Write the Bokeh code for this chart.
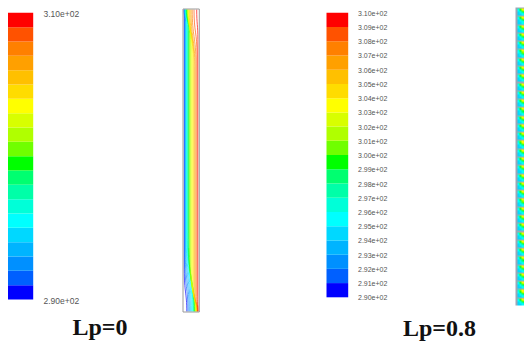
import numpy as np
from bokeh.plotting import figure
from bokeh.models import Range1d, LinearColorMapper, ColumnDataSource
from bokeh.transform import linear_cmap
from bokeh.core.properties import value
from bokeh.embed import file_html
from bokeh.resources import INLINE

# ---------------- data ----------------
# colour-bar levels (K) and their labels
levels = [290, 291, 292, 293, 294, 295, 296, 297, 298, 299, 300,
          301, 302, 303, 304, 305, 306, 307, 308, 309, 310]
level_labels = ["2.90e+02", "2.91e+02", "2.92e+02", "2.93e+02", "2.94e+02",
                "2.95e+02", "2.96e+02", "2.97e+02", "2.98e+02", "2.99e+02",
                "3.00e+02", "3.01e+02", "3.02e+02", "3.03e+02", "3.04e+02",
                "3.05e+02", "3.06e+02", "3.07e+02", "3.08e+02", "3.09e+02",
                "3.10e+02"]
left_label_levels = [290, 310]
left_labels = ["2.90e+02", "3.10e+02"]
# band colours, lowest (blue) to highest (red)
palette = ["#0000FF", "#0060FF", "#0090FF", "#00B4FF", "#00D8FF",
           "#00FFFF", "#00FFD8", "#00FFA8", "#00FF70", "#00FF00",
           "#70FF00", "#B0FF00", "#D8FF00", "#FFFF00", "#FFDC00",
           "#FFC000", "#FFA000", "#FF8000", "#FF5200", "#FF0000"]

# isotherms in the Lp=0 cavity (fractions of cavity width / height)
iso_T = [290.5, 291.5, 292.5, 293.5, 294.5, 295.5, 296.5, 297.5, 298.5, 299.5,
         300.5, 301.5, 302.5, 303.5, 304.5, 305.5, 306.5, 307.5, 308.5, 309.5]
iso_x_top = [0.03, 0.05, 0.07, 0.09, 0.11, 0.13, 0.15, 0.17, 0.19, 0.22,
             0.25, 0.28, 0.31, 0.34, 0.38, 0.43, 0.50, 0.58, 0.70, 0.88]
iso_y_top_bend = [0.97, 0.97, 0.97, 0.96, 0.96, 0.96, 0.95, 0.95, 0.94, 0.93,
                  0.92, 0.90, 0.88, 0.86, 0.84, 0.82, 0.81, 0.82, 0.85, 0.90]
iso_x_mid = [0.05, 0.08, 0.11, 0.14, 0.17, 0.20, 0.24, 0.28, 0.32, 0.36,
             0.41, 0.46, 0.52, 0.58, 0.64, 0.70, 0.76, 0.83, 0.90, 0.96]
iso_y_bot_bend = [0.14, 0.18, 0.21, 0.24, 0.26, 0.27, 0.27, 0.26, 0.24, 0.21,
                  0.18, 0.15, 0.12, 0.10, 0.08, 0.07, 0.06, 0.05, 0.05, 0.04]
iso_x_bot = [0.22, 0.30, 0.38, 0.45, 0.52, 0.58, 0.63, 0.67, 0.71, 0.74,
             0.77, 0.80, 0.83, 0.86, 0.88, 0.90, 0.92, 0.94, 0.96, 0.97]

# one repeating cell of the Lp=0.8 cavity (rows top->bottom, cols left->right), K
n_cells = 36
cell_T = [[np.nan, np.nan, np.nan, np.nan, np.nan],
          [np.nan, 296.0, 300.0, 303.5, 304.5],
          [np.nan, 295.5, 299.0, 302.0, 303.5],
          [np.nan, 295.0, 297.5, 300.0, 301.5],
          [np.nan, 294.5, 296.0, 298.0, 299.5],
          [np.nan, 294.5, 295.0, 296.5, 297.5],
          [np.nan, 294.0, 294.5, 295.5, 296.0],
          [np.nan, 294.0, 294.5, 295.0, 295.5]]

captions = ["Lp=0", "Lp=0.8"]

# ---------------- figure ----------------
W, H = 524, 342


def rng(p0, p1, v0, v1, size, vertical):
    k = (v1 - v0) / (p1 - p0)
    a = v0 - p0 * k
    b = v0 + (size - p0) * k
    return Range1d(start=b, end=a) if vertical else Range1d(start=a, end=b)


p = figure(width=W, height=H, x_range=Range1d(0, W), y_range=Range1d(H, 0),
           x_axis_location=None, y_axis_location=None, min_border=0,
           toolbar_location=None, output_backend="svg")
p.grid.visible = False
p.outline_line_color = None
p.background_fill_color = "white"
p.border_fill_color = "white"

p.extra_y_ranges = {
    "T1": rng(12.3, 299.0, 310, 290, H, True),
    "T2": rng(12.3, 296.8, 310, 290, H, True),
    "S1y": rng(311.0, 9.0, 0.0, 1.0, H, True),
    "S2y": rng(305.0, 7.0, 0.0, float(n_cells), H, True),
}
p.extra_x_ranges = {"S1x": rng(183.0, 198.0, 0.0, 1.0, W, False)}

mapper = LinearColorMapper(palette=palette, low=levels[0], high=levels[-1],
                           nan_color="#9ca6b6")

bands = ColumnDataSource(dict(bottom=levels[:-1], top=levels[1:],
                              tmid=[(a + b) / 2 for a, b in zip(levels[:-1], levels[1:])]))

# colour bars
p.quad(left=7.5, right=32.7, bottom="bottom", top="top", source=bands,
       y_range_name="T1", fill_color=linear_cmap("tmid", palette, 290, 310),
       line_color=None)
p.quad(left=326.0, right=347.7, bottom="bottom", top="top", source=bands,
       y_range_name="T2", fill_color=linear_cmap("tmid", palette, 290, 310),
       line_color=None)

# colour-bar labels
p.text(x=43, y=left_label_levels, text=left_labels, y_range_name="T1",
       text_font=value("Liberation Sans"), text_font_size="8.5px",
       text_color="#555555", text_baseline="middle", text_align="left",
       y_offset=1.5)
p.text(x=357.5, y=levels, text=level_labels, y_range_name="T2",
       text_font=value("Liberation Sans"), text_font_size="7px",
       text_color="#555555", text_baseline="middle", text_align="left",
       y_offset=0.5)

# Lp=0 cavity: isotherms
xt = np.array(iso_x_top); yt = np.array(iso_y_top_bend)
xm = np.array(iso_x_mid); yb = np.array(iso_y_bot_bend); xb = np.array(iso_x_bot)
iso = ColumnDataSource(dict(
    T=iso_T,
    tx0=xt, ty0=np.ones_like(xt), tx1=xm, ty1=yt,
    tcx0=xt, tcy0=1 - 0.5 * (1 - yt), tcx1=xm, tcy1=yt + 0.5 * (1 - yt),
    bx0=xm, by0=yb, bx1=xb, by1=np.zeros_like(xb),
    bcx0=xm, bcy0=0.45 * yb, bcx1=xb, bcy1=0.45 * yb,
))
lc = linear_cmap("T", palette, 290, 310)
p.bezier(x0="tx0", y0="ty0", x1="tx1", y1="ty1", cx0="tcx0", cy0="tcy0",
         cx1="tcx1", cy1="tcy1", source=iso, x_range_name="S1x",
         y_range_name="S1y", line_color=lc, line_width=0.8, line_alpha=0.85)
p.segment(x0="tx1", y0="ty1", x1="bx0", y1="by0", source=iso,
          x_range_name="S1x", y_range_name="S1y", line_color=lc,
          line_width=0.8, line_alpha=0.85)
p.bezier(x0="bx0", y0="by0", x1="bx1", y1="by1", cx0="bcx0", cy0="bcy0",
         cx1="bcx1", cy1="bcy1", source=iso, x_range_name="S1x",
         y_range_name="S1y", line_color=lc, line_width=0.8, line_alpha=0.85)
p.quad(left=182.5, right=198.8, top=8.5, bottom=311.5, fill_color=None,
       line_color="#9a9a9a", line_width=1)

# Lp=0.8 cavity: repeated cells
cell = np.array(cell_T)[::-1]          # image row 0 is at the bottom
field = np.vstack([cell] * n_cells)
p.image(image=[field], x=515.0, y=0.0, dw=10.0, dh=float(n_cells),
        y_range_name="S2y", color_mapper=mapper)

# captions
p.text(x=[99.5, 439.0], y=[326.0, 327.5], text=captions,
       text_font=value("Liberation Serif"), text_font_size="24px",
       text_font_style="bold", text_color="#111111",
       text_align="center", text_baseline="middle")

open("out.html", "w").write(file_html(p, INLINE))
